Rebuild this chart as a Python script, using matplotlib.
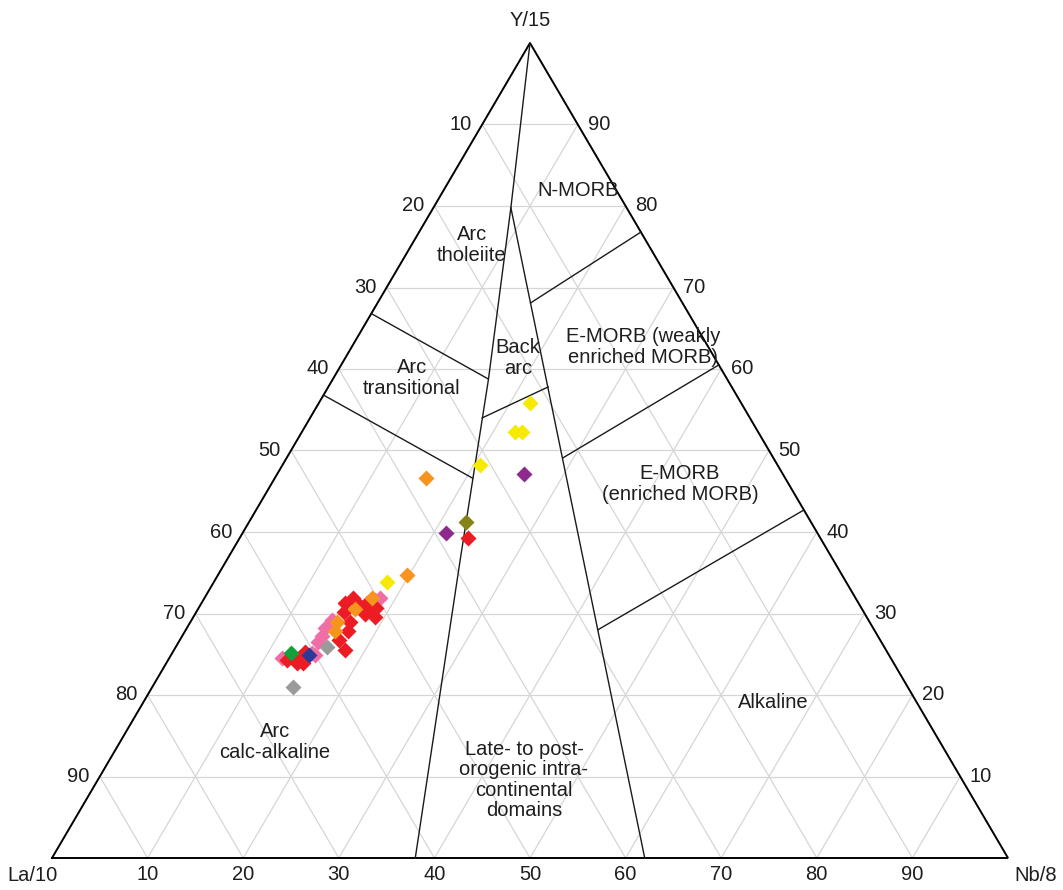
import matplotlib
matplotlib.use("Agg")
import matplotlib.pyplot as plt
import numpy as np

plt.rcParams['font.family'] = ['Liberation Sans', 'DejaVu Sans']

# Apex labels and tick values (percent of La/10 + Y/15 + Nb/8)
apex_labels = ["La/10", "Y/15", "Nb/8"]
tick_values = [10, 20, 30, 40, 50, 60, 70, 80, 90]

# Samples as (La/10, Y/15, Nb/8) percentages, grouped by symbol colour
pink = [(49.8, 31.9, 18.4), (50.4, 31.7, 18.0), (56.1, 29.2, 14.7), (57.3, 28.2, 14.5),
        (58.2, 27.2, 14.6), (58.9, 26.5, 14.6), (60.3, 25.1, 14.6), (60.0, 24.9, 15.1),
        (63.7, 24.5, 11.8)]
red = [(36.8, 39.3, 23.9), (51.5, 31.3, 17.3), (51.5, 30.4, 18.0), (51.4, 29.6, 19.0),
       (52.3, 30.9, 16.8), (52.3, 29.9, 17.8), (50.8, 30.7, 18.6), (52.6, 31.9, 15.5),
       (53.7, 31.3, 15.0), (54.4, 30.2, 15.4), (54.3, 29.0, 16.7), (55.1, 27.8, 17.1),
       (56.7, 26.8, 16.6), (56.6, 25.5, 17.9), (60.9, 25.3, 13.8), (61.8, 23.9, 14.3),
       (61.9, 24.5, 13.6), (62.4, 23.9, 13.7), (63.3, 24.3, 12.4)]
orange = [(37.6, 46.7, 15.8), (45.5, 34.7, 19.7), (50.6, 31.9, 17.5), (53.0, 30.6, 16.4),
          (55.7, 29.0, 15.3), (56.5, 27.8, 15.7)]
gray = [(58.3, 25.9, 15.8), (64.3, 21.0, 14.7)]
blue = [(60.7, 24.9, 14.4)]
green = [(62.4, 25.1, 12.5)]
yellow = [(22.1, 55.9, 22.1), (25.4, 52.3, 22.3), (24.7, 52.3, 23.0), (31.1, 48.2, 20.7),
          (48.0, 33.9, 18.1)]
purple = [(27.1, 47.1, 25.8), (38.8, 39.9, 21.3)]
olive = [(36.1, 41.3, 22.7)]

# Field boundaries of the discrimination diagram (La, Y, Nb percent)
arc_limit = [(0, 100, 0), (12.1, 79.8, 8.1), (25.0, 58.7, 16.3), (39.0, 36.6, 24.4), (62, 0, 38)]
morb_limit = [(12.1, 79.8, 8.1), (38, 0, 62)]
nmorb_emorb = [(15.9, 68.1, 16.0), (0, 76.8, 23.2)]
weak_enriched = [(22.0, 49.1, 28.9), (0, 60.5, 39.5)]
enriched_alkaline = [(28.9, 28.0, 43.1), (0, 42.7, 57.3)]
back_arc_base = [(28.0, 54.0, 18.0), (19.2, 57.8, 23.0)]
tholeiite_transitional = [(33.2, 66.8, 0), (25.0, 58.8, 16.2)]
transitional_calcalk = [(43.2, 56.8, 0), (32.7, 46.6, 20.7)]
boundaries = [arc_limit, morb_limit, nmorb_emorb, weak_enriched, enriched_alkaline,
              back_arc_base, tholeiite_transitional, transitional_calcalk]


def tern(points):
    """Convert (La, Y, Nb) compositions to plotting coordinates."""
    p = np.asarray(points, dtype=float)
    p = p / p.sum(axis=1, keepdims=True)
    y = p[:, 1]
    nb = p[:, 2]
    return nb + y / 2.0, y


fig = plt.figure(figsize=(10.63, 8.9), dpi=100)
ax = fig.add_axes([0, 0, 1, 1])
ax.set_xlim(-52 / 956, 1011 / 956)
ax.set_ylim(-32 / 815, 858 / 815)
ax.axis('off')

# light 10 % grid
grid_kw = dict(color='#d6d6d6', lw=0.9, zorder=1)
for f in tick_values:
    for seg in ([(100 - f, f, 0), (0, f, 100 - f)],
                [(f, 100 - f, 0), (f, 0, 100 - f)],
                [(0, 100 - f, f), (100 - f, 0, f)]):
        x, y = tern(seg)
        ax.plot(x, y, **grid_kw)

# outline
x, y = tern([(100, 0, 0), (0, 0, 100), (0, 100, 0), (100, 0, 0)])
ax.plot(x, y, color='black', lw=1.4, zorder=3, solid_joinstyle='miter')

# field boundaries
for b in boundaries:
    x, y = tern(b)
    ax.plot(x, y, color='#1a1a1a', lw=1.0, zorder=3)

# samples
groups = [(pink, '#ef6ea6'), (red, '#ec1c24'), (orange, '#f7941d'), (gray, '#9a9a9a'),
          (blue, '#2b3a98'), (green, '#11a03c'), (yellow, '#f5ea00'),
          (purple, '#8e2a8e'), (olive, '#858318')]
for pts, c in groups:
    x, y = tern(pts)
    ax.plot(x, y, 'D', ms=8.2, mec='none', color=c, zorder=4)

fs = 14.5
tc = '#1e1e1e'
# tick labels on the three edges
for v in tick_values:
    x, y = tern([(100 - v, 0, v)])
    ax.annotate(str(v), (x[0], y[0]), xytext=(0, -12.2), textcoords='offset points',
                ha='center', va='center', fontsize=fs, color=tc)
    x, y = tern([(v, 100 - v, 0)])
    ax.annotate(str(v), (x[0], y[0]), xytext=(-7.5, 0), textcoords='offset points',
                ha='right', va='center', fontsize=fs, color=tc)
    x, y = tern([(0, v, 100 - v)])
    ax.annotate(str(v), (x[0], y[0]), xytext=(7, 0), textcoords='offset points',
                ha='left', va='center', fontsize=fs, color=tc)

# apex labels
ax.text(-0.0200, -0.0209, apex_labels[0], ha='center', va='center', fontsize=fs, color=tc)
ax.text(0.5, 1.0282, apex_labels[1], ha='center', va='center', fontsize=fs, color=tc)
ax.text(1.0285, -0.0209, apex_labels[2], ha='center', va='center', fontsize=fs, color=tc)

# field names
fields = [
    (0.5502, 0.8196, "N-MORB"),
    (0.4393, 0.7521, "Arc\ntholeiite"),
    (0.6182, 0.6270, "E-MORB (weakly\nenriched MORB)"),
    (0.4874, 0.6135, "Back\narc"),
    (0.3766, 0.5890, "Arc\ntransitional"),
    (0.6569, 0.4589, "E-MORB\n(enriched MORB)"),
    (0.7542, 0.1902, "Alkaline"),
    (0.2333, 0.1423, "Arc\ncalc-alkaline"),
    (0.4937, 0.0957, "Late- to post-\norogenic intra-\ncontinental\ndomains"),
]
for x, y, t in fields:
    ax.text(x, y, t, ha='center', va='center', multialignment='center',
            fontsize=fs, color=tc, linespacing=1.1, zorder=5)

fig.savefig("out.png", dpi=100)
